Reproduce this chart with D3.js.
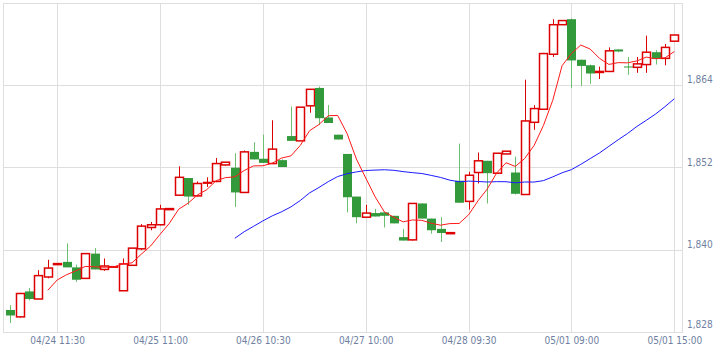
<!DOCTYPE html>
<html>
<head>
<meta charset="utf-8">
<script src="https://cdn.jsdelivr.net/npm/d3@7"></script>
<style>
body { margin: 0; background: #fff; }
text { font-family: "DejaVu Sans Condensed", "DejaVu Sans", sans-serif; font-stretch: condensed; font-size: 10px; fill: #6f7f9f; }
</style>
</head>
<body>
<svg id="chart" width="719" height="353"></svg>
<script>

// candle values, one per bar
var opens  = [1831.2,1830.2,1833.9,1832.8,1836.0,1837.8,1838.2,1837.4,1835.8,1839.4,
              1837.1,1837.5,1834.0,1837.7,1840.1,1843.2,1843.6,1845.8,1847.9,1850.4,
              1847.8,1849.65,1849.9,1852.3,1851.9,1848.3,1854.2,1853.2,1852.5,1853.0,
              1856.5,1855.8,1860.9,1863.5,1859.2,1856.7,1853.9,1847.7,1844.7,1845.3,
              1845.4,1844.9,1841.8,1841.4,1846.7,1844.5,1843.0,1842.3,1850.0,1847.0,
              1851.2,1852.9,1851.1,1853.9,1851.2,1848.0,1858.5,1860.4,1868.4,1872.7,
              1873.5,1867.6,1866.8,1865.75,1865.9,1869.1,1866.62,1866.5,1866.9,1868.7,
              1867.8,1870.3]
var highs  = [1831.9,1833.7,1834.4,1837.0,1838.5,1837.95,1840.9,1837.8,1839.5,1840.2,
              1838.7,1837.6,1838.7,1840.2,1843.7,1844.0,1846.5,1845.95,1852.1,1850.4,
              1849.9,1850.5,1853.3,1852.7,1854.0,1854.4,1855.6,1856.7,1858.8,1853.1,
              1860.8,1860.7,1863.3,1863.7,1861.0,1856.7,1853.9,1847.7,1846.5,1845.9,
              1845.4,1844.9,1843.0,1846.7,1846.7,1844.5,1844.7,1842.45,1855.4,1851.3,
              1854.1,1852.9,1854.0,1854.3,1853.5,1864.7,1861.0,1868.6,1873.5,1873.3,
              1873.6,1867.6,1866.9,1866.6,1869.4,1869.1,1868.0,1868.0,1871.1,1869.0,
              1869.9,1871.2]
var lows   = [1829.3,1830.1,1832.6,1832.8,1835.8,1837.8,1837.4,1835.3,1835.8,1837.1,
              1836.9,1837.4,1834.0,1837.7,1839.9,1842.8,1843.5,1845.8,1847.9,1846.5,
              1847.7,1849.1,1849.8,1852.2,1846.2,1848.2,1853.1,1852.6,1852.5,1852.0,
              1855.8,1855.8,1859.9,1858.1,1858.4,1856.0,1845.4,1843.8,1844.6,1844.8,
              1843.2,1843.8,1841.3,1841.3,1844.5,1842.3,1841.1,1842.3,1846.8,1845.8,
              1849.6,1846.7,1851.0,1853.9,1848.0,1848.0,1857.4,1860.4,1868.0,1872.7,
              1863.5,1863.8,1864.1,1864.8,1865.8,1868.7,1865.4,1865.7,1865.7,1866.9,
              1866.8,1870.3]
var closes = [1830.4,1833.6,1832.8,1836.2,1837.3,1837.95,1837.4,1835.6,1839.4,1837.1,
              1837.6,1837.5,1837.9,1840.2,1843.4,1843.6,1845.9,1845.95,1850.5,1847.7,
              1849.6,1849.75,1852.5,1852.7,1848.3,1854.2,1853.1,1852.6,1854.6,1852.0,
              1855.8,1860.7,1863.3,1859.1,1858.4,1856.0,1847.6,1844.7,1845.3,1844.8,
              1844.9,1843.8,1841.3,1846.7,1844.5,1842.8,1842.4,1842.45,1846.8,1850.8,
              1852.9,1851.1,1854.0,1854.3,1848.1,1858.7,1860.5,1868.5,1872.7,1873.3,
              1867.5,1866.7,1865.6,1865.9,1868.9,1868.8,1866.55,1867.0,1868.7,1867.7,
              1869.4,1871.2]

var yTicks = [1828, 1840, 1852, 1864]
var xTickIdx = [5, 16, 27, 38, 49, 60, 71]
var xTickLabels = ["04/24 11:30", "04/25 11:00", "04/26 10:30", "04/27 10:00",
                   "04/28 09:30", "05/01 09:00", "05/01 15:00"]

var UP = "#dd0000", DOWN = "#339a3c", DOWN_WICK = "#6cbf6c"

var candles = opens.map(function (o, i) {
  return { i: i, o: o, h: highs[i], l: lows[i], c: closes[i] }
})

// simple moving average of the closes
function sma(n) {
  var out = []
  for (var i = n - 1; i < closes.length; i++) {
    out.push({ i: i, v: d3.mean(closes.slice(i - n + 1, i + 1)) })
  }
  return out
}

var svg = d3.select("#chart")
var plotL = 3, plotT = 3, plotR = 682, plotB = 332

var x = d3.scalePoint().domain(d3.range(candles.length)).range([10.4, 674.3])
var y = d3.scaleLinear().domain([1828, 1864]).range([332, 84.5])

// grid
var grid = svg.append("g").attr("shape-rendering", "crispEdges").attr("stroke", "#dedede")
grid.selectAll(".hg").data(yTicks).enter().append("line")
  .attr("x1", plotL).attr("x2", plotR)
  .attr("y1", function (d) { return Math.round(y(d)) + 0.5 })
  .attr("y2", function (d) { return Math.round(y(d)) + 0.5 })
grid.selectAll(".vg").data(xTickIdx).enter().append("line")
  .attr("y1", plotT).attr("y2", plotB)
  .attr("x1", function (d) { return Math.round(x(d)) + 0.5 })
  .attr("x2", function (d) { return Math.round(x(d)) + 0.5 })
grid.append("rect")
  .attr("x", plotL + 0.5).attr("y", plotT + 0.5)
  .attr("width", plotR - plotL).attr("height", plotB - plotT)
  .attr("fill", "none")

// candles
var g = svg.append("g")
var bw = 8

candles.forEach(function (d) {
  var cx = Math.round(x(d.i)) + 0.5
  var up = d.c >= d.o
  var yTop = y(Math.max(d.o, d.c)), yBot = y(Math.min(d.o, d.c))
  if (up) {
    g.append("line").attr("x1", cx).attr("x2", cx)
      .attr("y1", y(d.h)).attr("y2", yTop).attr("stroke", UP)
    g.append("line").attr("x1", cx).attr("x2", cx)
      .attr("y1", yBot).attr("y2", y(d.l)).attr("stroke", UP)
    g.append("rect")
      .attr("x", cx - bw / 2).attr("y", yTop)
      .attr("width", bw).attr("height", Math.max(yBot - yTop, 0.5))
      .attr("fill", "#fff").attr("stroke", UP).attr("stroke-width", 1.5)
  } else {
    g.append("line").attr("x1", cx).attr("x2", cx)
      .attr("y1", y(d.h)).attr("y2", y(d.l)).attr("stroke", DOWN_WICK)
    g.append("rect")
      .attr("x", cx - bw / 2 - 0.5).attr("y", yTop)
      .attr("width", bw + 1).attr("height", Math.max(yBot - yTop, 1))
      .attr("fill", DOWN)
  }
})

// moving averages
var line = d3.line()
  .x(function (d) { return x(d.i) })
  .y(function (d) { return y(d.v) })

svg.append("path").datum(sma(25))
  .attr("d", line).attr("fill", "none").attr("stroke", "#1a1aff").attr("stroke-width", 1)
svg.append("path").datum(sma(5))
  .attr("d", line).attr("fill", "none").attr("stroke", "#ff1a1a").attr("stroke-width", 1)

// y axis labels on the right
var yAxis = svg.append("g")
  .attr("transform", "translate(" + (plotR + 5) + ",0)")
  .call(d3.axisRight(y).tickValues(yTicks).tickSize(0).tickPadding(0).tickFormat(d3.format(",")))
yAxis.select(".domain").remove()
yAxis.selectAll("text")
  .attr("dy", null)
  .attr("y", function (d) { return d === 1828 ? -5 : -2 })
  .attr("fill", null)
yAxis.attr("font-family", null).attr("font-size", null)

// x axis labels
var xAxis = svg.append("g")
  .attr("transform", "translate(0," + (plotB + 5) + ")")
  .call(d3.axisBottom(x).tickValues(xTickIdx).tickSize(0).tickPadding(0)
    .tickFormat(function (d) { return xTickLabels[xTickIdx.indexOf(d)] }))
xAxis.select(".domain").remove()
xAxis.selectAll("text").attr("dy", "0.71em").attr("y", 0).attr("fill", null)
xAxis.attr("font-family", null).attr("font-size", null)

</script>
</body>
</html>
